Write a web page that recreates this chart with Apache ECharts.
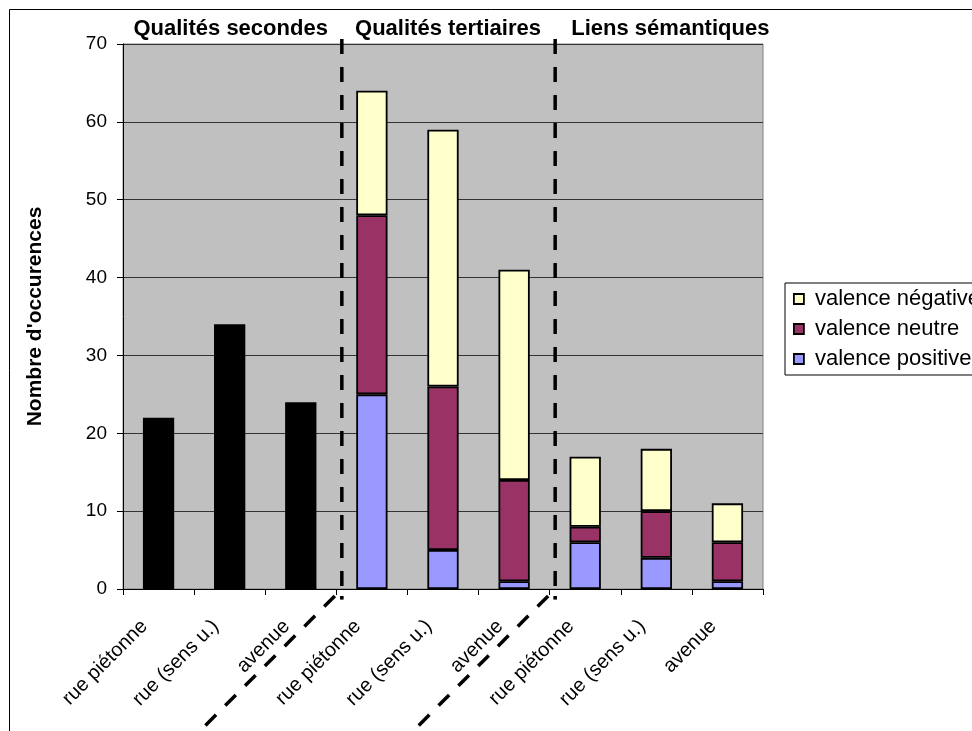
<!DOCTYPE html>
<html>
<head>
<meta charset="utf-8">
<script src="https://cdn.jsdelivr.net/npm/echarts@6/dist/echarts.min.js"></script>
<style>
  html, body { margin: 0; padding: 0; background: #ffffff; }
  #chart { width: 972px; height: 731px; }
</style>
</head>
<body>
<div id="chart"></div>
<script>
// Categories along the x axis (three groups of three street types)
const categories = [
  'rue piétonne', 'rue (sens u.)', 'avenue',
  'rue piétonne', 'rue (sens u.)', 'avenue',
  'rue piétonne', 'rue (sens u.)', 'avenue'
];
// Group headers above the plot
const groupTitles = ['Qualités secondes', 'Qualités tertiaires', 'Liens sémantiques'];

// Occurrence counts
const secondes = [22, 34, 24, '-', '-', '-', '-', '-', '-'];
const valencePositive = ['-', '-', '-', 25, 5, 1, 6, 4, 1];
const valenceNeutre   = ['-', '-', '-', 23, 21, 13, 2, 6, 5];
const valenceNegative = ['-', '-', '-', 16, 33, 27, 9, 8, 5];

const yTicks = { min: 0, max: 70, interval: 10 };

const chart = echarts.init(document.getElementById('chart'), null, { renderer: 'canvas' });

const font = 'Arial, "Liberation Sans", sans-serif';
const barBorder = { borderColor: '#000000', borderWidth: 1.8 };

const option = {
  backgroundColor: '#ffffff',
  animation: false,
  textStyle: { fontFamily: font, color: '#000000' },
  grid: {
    left: 123, right: 209, top: 44, bottom: 142,
    show: true, backgroundColor: '#c0c0c0', borderColor: '#808080', borderWidth: 1
  },
  legend: {
    orient: 'vertical',
    left: 785, top: 283,
    itemWidth: 10, itemHeight: 10, itemGap: 8,
    padding: [5, 40, 5, 8],
    borderColor: '#000000', borderWidth: 1,
    backgroundColor: '#ffffff',
    textStyle: { fontSize: 22, fontFamily: font, color: '#000000', padding: [0, 0, 0, 6] },
    data: [
      { name: 'valence négative', icon: 'rect', itemStyle: { color: '#ffffcc', borderColor: '#000', borderWidth: 1.8 } },
      { name: 'valence neutre', icon: 'rect', itemStyle: { color: '#993366', borderColor: '#000', borderWidth: 1.8 } },
      { name: 'valence positive', icon: 'rect', itemStyle: { color: '#9999ff', borderColor: '#000', borderWidth: 1.8 } }
    ]
  },
  xAxis: {
    type: 'category',
    data: categories,
    axisLine: { lineStyle: { color: '#000000', width: 1 } },
    axisTick: { show: true, length: 6, lineStyle: { color: '#000000' } },
    axisLabel: {
      rotate: 45, fontSize: 20, color: '#000000', margin: 20, interval: 0,
      fontFamily: font, padding: [0, 20, 0, 0]
    },
    splitLine: { show: false }
  },
  yAxis: {
    type: 'value',
    min: yTicks.min, max: yTicks.max, interval: yTicks.interval,
    name: "Nombre d'occurences",
    nameLocation: 'middle',
    nameGap: 77,
    nameTextStyle: { fontSize: 21, fontWeight: 'bold', color: '#000000', fontFamily: font },
    axisLine: { show: true, lineStyle: { color: '#000000', width: 1 } },
    axisTick: { show: true, length: 6, lineStyle: { color: '#000000' } },
    axisLabel: { fontSize: 19, color: '#000000', margin: 16, fontFamily: font },
    splitLine: { show: true, lineStyle: { color: '#333333', width: 1 } }
  },
  series: [
    {
      name: 'Qualités secondes', type: 'bar', stack: 'total', data: secondes,
      barWidth: '44%', itemStyle: Object.assign({ color: '#000000' }, barBorder)
    },
    {
      name: 'valence positive', type: 'bar', stack: 'total', data: valencePositive,
      barWidth: '44%', itemStyle: Object.assign({ color: '#9999ff' }, barBorder)
    },
    {
      name: 'valence neutre', type: 'bar', stack: 'total', data: valenceNeutre,
      barWidth: '44%', itemStyle: Object.assign({ color: '#993366' }, barBorder)
    },
    {
      name: 'valence négative', type: 'bar', stack: 'total', data: valenceNegative,
      barWidth: '44%', itemStyle: Object.assign({ color: '#ffffcc' }, barBorder)
    }
  ]
};

chart.setOption(option);

// Group separators and headers, placed from the axis scale
function drawDecorations() {
  const x0 = chart.convertToPixel({ xAxisIndex: 0 }, 0);
  const x1 = chart.convertToPixel({ xAxisIndex: 0 }, 1);
  const step = x1 - x0;
  const left = x0 - step / 2;
  const yTop = chart.convertToPixel({ yAxisIndex: 0 }, yTicks.max);
  const yZero = chart.convertToPixel({ yAxisIndex: 0 }, 0);

  const dash = { stroke: '#000000', lineWidth: 3.5, lineDash: [15, 13] };
  const elements = [
    // outer frame of the figure
    { type: 'rect', shape: { x: 9.5, y: 9.5, width: 980, height: 740 },
      style: { fill: null, stroke: '#000000', lineWidth: 1 }, z: 0 }
  ];

  [3, 6].forEach(function (k) {
    const xs = left + step * k + 5.5;
    elements.push({ type: 'line', shape: { x1: xs, y1: yTop - 5, x2: xs, y2: yZero + 2 }, style: dash, z: 50 });
    elements.push({ type: 'rect', shape: { x: xs - 1.8, y: yZero + 7, width: 3.6, height: 3.6 }, style: { fill: '#000' }, z: 50 });
    elements.push({ type: 'line', shape: { x1: xs - 7, y1: yZero + 7, x2: xs - 7 - 150, y2: yZero + 7 + 150 }, style: dash, z: 50 });
  });

  const titleShift = [1, 5, 14];
  for (let g = 0; g < 3; g++) {
    const cx = left + step * (3 * g + 1.5) + titleShift[g];
    elements.push({
      type: 'text', x: cx, y: yTop - 15, z: 60,
      style: {
        text: groupTitles[g], fill: '#000000', align: 'center', verticalAlign: 'middle',
        font: 'bold 22px ' + font
      }
    });
  }
  chart.setOption({ graphic: { elements: elements } });
}
drawDecorations();
</script>
</body>
</html>
